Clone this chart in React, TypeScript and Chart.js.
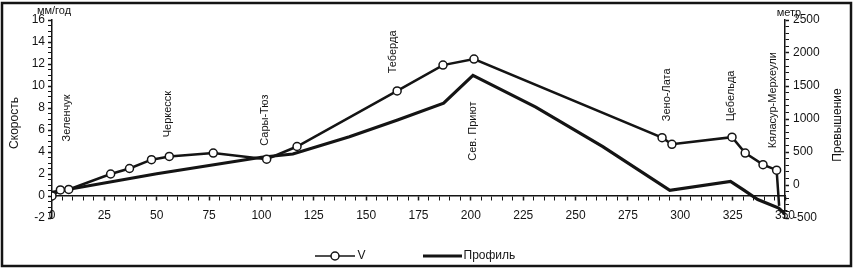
import { useEffect, useRef } from "react";
import { Chart, registerables } from "chart.js";

Chart.register(...registerables);

// ---- data ----
const velocityKm = [0, 4, 8, 28, 37, 47.5, 56, 77, 102.5, 117, 164.8, 186.7, 201.5, 291.3, 296, 324.7, 331, 339.5, 346, 347.2];
const velocityRate = [0, 0.55, 0.6, 2.0, 2.5, 3.3, 3.6, 3.9, 3.35, 4.5, 9.55, 11.9, 12.45, 5.3, 4.7, 5.35, 3.9, 2.85, 2.35, -0.9];

const profileKm = [0, 50, 100, 115, 142, 165, 187, 201, 231, 263, 295, 324, 330, 337, 347, 350];
const profileElevation = [-110, 170, 420, 470, 730, 985, 1240, 1660, 1180, 580, -80, 55, -70, -220, -350, -440];

const stationNames = ["Зеленчук", "Черкесск", "Сары-Тюз", "Теберда", "Сев. Приют", "Зено-Лата", "Цебельда", "Кяласур-Мерхеули"];
const stationKm = [7.2, 55.4, 101.7, 162.8, 201, 293.7, 324.3, 344.3];
const stationLabelLevel = [7.1, 7.45, 6.9, 13.1, 5.9, 9.2, 9.1, 8.7];

const seriesNames = ["V", "Профиль"];
const leftTitle = "Скорость";
const rightTitle = "Превышение";
const leftUnit = "мм/год";
const rightUnit = "метр";

const xRange = [0, 350];
const xLabelStep = 25;
const leftRange = [-2, 16];
const leftLabelStep = 2;
const rightRange = [-500, 2500];
const rightLabelStep = 500;

const INK = "#141414";
const FONT = "'Liberation Sans', Arial, sans-serif";

const isMultiple = (v: number, step: number) => Math.abs(v / step - Math.round(v / step)) < 1e-6;

const decorPlugin = {
  id: "decor",
  beforeDraw(chart: any) {
    const { ctx, width, height } = chart;
    ctx.save();
    ctx.fillStyle = "#ffffff";
    ctx.fillRect(0, 0, width, height);
    ctx.restore();
  },
  afterDraw(chart: any) {
    const { ctx, chartArea, scales } = chart;
    const x = scales.x;
    const y = scales.y;
    const y1 = scales.y1;
    ctx.save();
    ctx.fillStyle = INK;
    ctx.strokeStyle = INK;

    // station names, rotated
    ctx.font = `11px ${FONT}`;
    stationNames.forEach((name, i) => {
      const px = x.getPixelForValue(stationKm[i]);
      const py = y.getPixelForValue(stationLabelLevel[i]);
      ctx.save();
      ctx.translate(px, py);
      ctx.rotate(-Math.PI / 2);
      ctx.textAlign = "center";
      ctx.textBaseline = "middle";
      ctx.fillText(name, 0, 0);
      ctx.restore();
    });

    // axis titles
    ctx.font = `12px ${FONT}`;
    const midY = (chartArea.top + chartArea.bottom) / 2 + 4;
    ctx.save();
    ctx.translate(15, midY);
    ctx.rotate(-Math.PI / 2);
    ctx.textAlign = "center";
    ctx.textBaseline = "middle";
    ctx.fillText(leftTitle, 0, 0);
    ctx.restore();
    ctx.save();
    ctx.translate(838, midY + 2);
    ctx.rotate(-Math.PI / 2);
    ctx.textAlign = "center";
    ctx.textBaseline = "middle";
    ctx.fillText(rightTitle, 0, 0);
    ctx.restore();

    // units
    ctx.font = `11px ${FONT}`;
    ctx.textAlign = "center";
    ctx.textBaseline = "middle";
    ctx.fillText(leftUnit, y.right + 2, chartArea.top - 9);
    ctx.fillText(rightUnit, y1.left + 4, chartArea.top - 7);

    // legend
    const cx = (chartArea.left + chartArea.right) / 2;
    const ly = 256;
    const ds = chart.data.datasets;
    ctx.font = `12px ${FONT}`;
    ctx.textAlign = "left";
    ctx.textBaseline = "middle";
    // V
    ctx.lineWidth = 1.5;
    ctx.beginPath();
    ctx.moveTo(cx - 103.5, ly);
    ctx.lineTo(cx - 63.5, ly);
    ctx.stroke();
    ctx.beginPath();
    ctx.arc(cx - 83.5, ly, 4, 0, Math.PI * 2);
    ctx.fillStyle = "#ffffff";
    ctx.fill();
    ctx.lineWidth = ds[0].pointBorderWidth;
    ctx.stroke();
    ctx.fillStyle = INK;
    ctx.fillText(seriesNames[0], cx - 61, ly);
    // Профиль
    ctx.lineWidth = ds[1].borderWidth;
    ctx.beginPath();
    ctx.moveTo(cx + 4.5, ly);
    ctx.lineTo(cx + 43.5, ly);
    ctx.stroke();
    ctx.fillText(seriesNames[1], cx + 45, ly);

    // outer frame
    ctx.lineWidth = 2.5;
    ctx.strokeRect(2, 3, 849, 263);
    ctx.restore();
  },
};

export default function App() {
  const canvasRef = useRef<HTMLCanvasElement | null>(null);

  useEffect(() => {
    const canvas = canvasRef.current;
    if (!canvas) return;

    const chart = new Chart(canvas, {
      type: "line",
      data: {
        datasets: [
          {
            label: seriesNames[0],
            data: velocityKm.map((k, i) => ({ x: k, y: velocityRate[i] })),
            yAxisID: "y",
            borderColor: INK,
            borderWidth: 2.5,
            pointRadius: (c: any) => (c.dataIndex === velocityKm.length - 1 ? 0 : 4),
            pointBackgroundColor: "#ffffff",
            pointBorderColor: INK,
            pointBorderWidth: 1.5,
            tension: 0,
            order: 0,
          },
          {
            label: seriesNames[1],
            data: profileKm.map((k, i) => ({ x: k, y: profileElevation[i] })),
            yAxisID: "y1",
            borderColor: INK,
            borderWidth: 3.2,
            pointRadius: 0,
            tension: 0,
            order: 1,
          },
        ],
      },
      options: {
        responsive: false,
        animation: false,
        devicePixelRatio: 1,
        layout: { padding: { top: 20, bottom: 52, left: 0, right: 0 } },
        plugins: {
          legend: { display: false },
          tooltip: { enabled: false },
        },
        scales: {
          x: {
            type: "linear",
            position: { y: 0 } as any,
            min: xRange[0],
            max: xRange[1],
            border: { display: true, color: INK, width: 1.5 },
            grid: {
              drawOnChartArea: false,
              drawTicks: true,
              tickLength: 4,
              tickColor: INK,
              tickWidth: (c: any) => (isMultiple(c.tick.value, xLabelStep) ? 1.5 : 1),
            },
            ticks: {
              stepSize: 5,
              autoSkip: false,
              maxRotation: 0,
              padding: 8,
              color: INK,
              font: { family: FONT, size: 12 },
              callback: (v: any) => (isMultiple(Number(v), xLabelStep) ? String(v) : ""),
            },
          },
          y: {
            type: "linear",
            position: "left",
            min: leftRange[0],
            max: leftRange[1],
            afterFit: (s: any) => {
              s.width = 52;
            },
            border: { display: true, color: INK, width: 1.5 },
            grid: {
              drawOnChartArea: false,
              tickLength: 4,
              tickColor: INK,
              tickWidth: (c: any) => (isMultiple(c.tick.value, leftLabelStep) ? 1.5 : 1),
            },
            ticks: {
              stepSize: 0.5,
              autoSkip: false,
              padding: 3,
              color: INK,
              font: { family: FONT, size: 12 },
              callback: (v: any) => (isMultiple(Number(v), leftLabelStep) ? String(v) : ""),
            },
          },
          y1: {
            type: "linear",
            position: "right",
            min: rightRange[0],
            max: rightRange[1],
            afterFit: (s: any) => {
              s.width = 70;
            },
            border: { display: true, color: INK, width: 1.5 },
            grid: {
              drawOnChartArea: false,
              tickLength: 4,
              tickColor: INK,
              tickWidth: (c: any) => (isMultiple(c.tick.value, rightLabelStep) ? 1.5 : 1),
            },
            ticks: {
              stepSize: 100,
              autoSkip: false,
              padding: 4,
              color: INK,
              font: { family: FONT, size: 12 },
              callback: (v: any) => (isMultiple(Number(v), rightLabelStep) ? String(v) : ""),
            },
          },
        },
      },
      plugins: [decorPlugin],
    });

    return () => chart.destroy();
  }, []);

  return (
    <div style={{ position: "absolute", left: 0, top: 0, width: 855, height: 270 }}>
      <canvas ref={canvasRef} width={855} height={270} style={{ display: "block", width: 855, height: 270 }} />
    </div>
  );
}
